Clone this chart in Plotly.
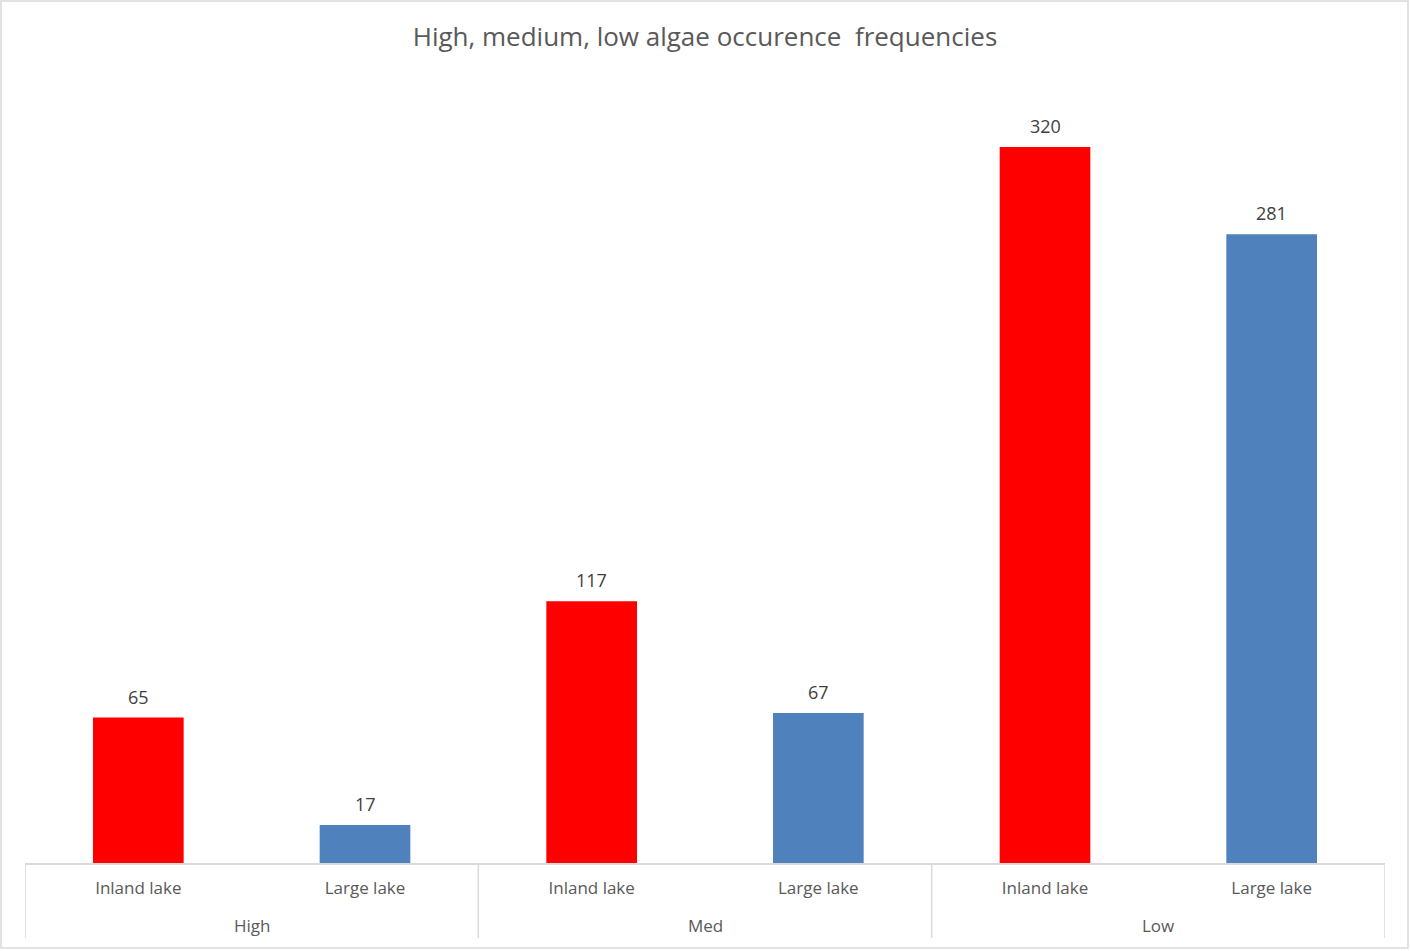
import plotly.graph_objects as go

groups = ["High", "High", "Med", "Med", "Low", "Low"]
lakes = ["Inland lake", "Large lake", "Inland lake", "Large lake", "Inland lake", "Large lake"]
counts = [65, 17, 117, 67, 320, 281]
colors = ["#FF0000", "#4F81BD", "#FF0000", "#4F81BD", "#FF0000", "#4F81BD"]

W, H = 1410, 951
ml, mr, mt, mb = 25, 25, 80, 88
pw = W - ml - mr
ph = H - mt - mb

idx = list(range(len(counts)))

fig = go.Figure()
fig.add_trace(go.Bar(
    x=idx,
    y=counts,
    marker=dict(color=colors, line=dict(width=0)),
    hovertext=[f"{g} / {l}" for g, l in zip(groups, lakes)],
))

# value labels
for i, v in zip(idx, counts):
    fig.add_annotation(x=i, y=v, xref="x", yref="y", text=str(v), showarrow=False,
                       yanchor="bottom", yshift=7,
                       font=dict(family="Open Sans", size=18, color="#404040"))

# group labels and dividers
uniq = []
for g in groups:
    if g not in uniq:
        uniq.append(g)
div_depth = (938 - 863) / ph
for g in uniq:
    members = [i for i, gg in enumerate(groups) if gg == g]
    fig.add_annotation(x=sum(members) / len(members), y=-(925 - 863) / ph,
                       xref="x", yref="paper", text=g, showarrow=False,
                       yanchor="middle",
                       font=dict(family="Open Sans", size=17, color="#595959"))
bounds = [-0.5] + [i + 0.5 for i in range(len(groups) - 1) if groups[i] != groups[i + 1]] + [len(groups) - 0.5]
for b in bounds:
    fig.add_shape(type="line", xref="x", yref="paper", x0=b, x1=b, y0=0, y1=-div_depth,
                  line=dict(color="#D9D9D9", width=1.5))

# outer chart border
fig.add_shape(type="rect", xref="paper", yref="paper",
              x0=(1 - ml) / pw, x1=(W - 2 - ml) / pw,
              y0=-(H - 3 - mt - ph) / ph, y1=1 + (mt - 1) / ph,
              line=dict(color="#D9D9D9", width=1.5), layer="below")

fig.update_layout(
    width=W, height=H,
    margin=dict(l=ml, r=mr, t=mt, b=mb),
    paper_bgcolor="white", plot_bgcolor="white",
    bargap=0.6,
    showlegend=False,
    title=dict(text="High, medium, low algae occurence  frequencies",
               x=0.5, xanchor="center", y=1 - 37 / H, yanchor="middle",
               font=dict(family="Open Sans", size=26, color="#595959")),
    font=dict(family="Open Sans", color="#595959"),
)
fig.update_xaxes(
    range=[-0.5, len(counts) - 0.5],
    tickmode="array", tickvals=idx, ticktext=lakes,
    showline=True, linecolor="#D9D9D9", linewidth=1.5,
    showgrid=False, zeroline=False, ticks="",
    ticklabelstandoff=9,
    tickfont=dict(family="Open Sans", size=17, color="#595959"),
)
fig.update_yaxes(range=[0, 350], visible=False, showgrid=False)

fig.write_html("out.html")
